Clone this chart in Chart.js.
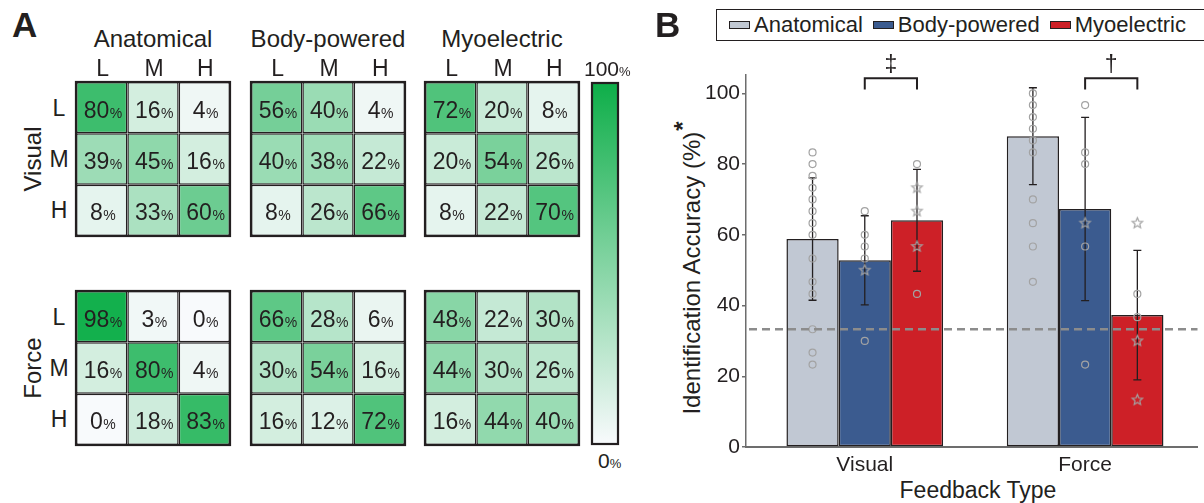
<!DOCTYPE html>
<html>
<head>
<meta charset="utf-8">
<title>Identification accuracy</title>
<script src="https://cdn.jsdelivr.net/npm/chart.js@4.4.1/dist/chart.umd.min.js"></script>
<style>
  html, body { margin: 0; padding: 0; background: #fff; }
  #page {
    position: relative; width: 1204px; height: 503px; overflow: hidden;
    font-family: "Liberation Sans", Arial, Helvetica, sans-serif; color: #231f20;
  }
  #page canvas { position: absolute; display: block; }
  .txt { position: absolute; white-space: nowrap; }
  .pct { font-size: 13px; }
  .legend {
    position: absolute; left: 716px; top: 9px; width: 500px; height: 30px;
    border: 1px solid #231f20; display: flex; align-items: center; padding-left: 12px;
    font-size: 22px; box-sizing: content-box;
  }
  .legend span.sw { display: inline-block; width: 19px; height: 6px; border: 1px solid #231f20; margin-right: 4px; }
  .legend span.it { margin-right: 10px; line-height: 30px; }
</style>
</head>
<body>
<div id="page">
  <div class="legend" id="legend"></div>
</div>
<script>
/* ---------- data ---------- */
var PROSTHESES = ['Anatomical', 'Body-powered', 'Myoelectric'];
var FEEDBACK = ['Visual', 'Force'];
var LEVELS = ['L', 'M', 'H'];

/* confusion matrices (%), row = presented level, column = answered level */
var VISUAL_ANATOMICAL = [[80, 16, 4], [39, 45, 16], [8, 33, 60]];
var VISUAL_BODY = [[56, 40, 4], [40, 38, 22], [8, 26, 66]];
var VISUAL_MYO = [[72, 20, 8], [20, 54, 26], [8, 22, 70]];
var FORCE_ANATOMICAL = [[98, 3, 0], [16, 80, 4], [0, 18, 83]];
var FORCE_BODY = [[66, 28, 6], [30, 54, 16], [16, 12, 72]];
var FORCE_MYO = [[48, 22, 30], [44, 30, 26], [16, 44, 40]];

/* panel B: mean and SD per feedback type (Visual, Force) */
var MEAN_ANATOMICAL = [58.8, 87.9];
var MEAN_BODY = [52.8, 67.3];
var MEAN_MYO = [64.1, 37.3];
var SD_ANATOMICAL = [17.3, 13.7];
var SD_BODY = [12.6, 25.9];
var SD_MYO = [14.4, 18.3];

/* individual participants: circles and stars, per feedback type */
var ANATOMICAL_CIRCLES = [[83.3, 80, 76.7, 73.3, 70, 66.7, 63.3, 60, 53.3, 46.7, 43.3, 33.3, 26.7, 23.3],
                          [100, 96.7, 93.3, 90, 86.7, 83.3, 70, 63.3, 56.7, 46.7]];
var ANATOMICAL_STARS = [[], []];
var BODY_CIRCLES = [[66.7, 60, 56.7, 53.3, 30], [96.7, 83.3, 80, 56.7, 23.3]];
var BODY_STARS = [[50], [63.3]];
var MYO_CIRCLES = [[80, 43.3], [43.3, 36.7]];
var MYO_STARS = [[73.3, 66.7, 56.7], [63.3, 30, 13.3]];

var Y_TICKS = [0, 20, 40, 60, 80, 100];
var CHANCE = 33.3;
var SIG_FEEDBACK = [0, 1];
var SIG_MARKS = ['\u2021', '\u2020'];

/* ---------- style ---------- */
var FONT = '"Liberation Sans", Arial, Helvetica, sans-serif';
var INK = '#231f20';
var HEAT_LOW = [248, 250, 252];
var HEAT_HIGH = [14, 174, 73];
var SERIES_COLORS = ['#c1c8d3', '#3b5b8f', '#cd2027'];
var MARKER = '#a3a3a3';
var CAT_PCT = 0.711;

Chart.defaults.font.family = FONT;
Chart.defaults.color = INK;

var page = document.getElementById('page');

function heatColor(v, a) {
  var t = v / 100;
  var c = HEAT_LOW.map(function (lo, i) { return Math.round(lo + (HEAT_HIGH[i] - lo) * t); });
  return 'rgba(' + c[0] + ',' + c[1] + ',' + c[2] + ',' + (a == null ? 1 : a) + ')';
}

function makeCanvas(x, y, w, h) {
  var c = document.createElement('canvas');
  c.width = w; c.height = h;
  c.style.left = x + 'px'; c.style.top = y + 'px';
  c.style.width = w + 'px'; c.style.height = h + 'px';
  page.appendChild(c);
  return c;
}

/* text placed by baseline; align 'center' centers on x */
function text(html, x, baseline, size, align, bold) {
  var d = document.createElement('div');
  d.className = 'txt';
  d.innerHTML = html;
  d.style.fontSize = size + 'px';
  d.style.lineHeight = size + 'px';
  d.style.left = x + 'px';
  d.style.top = (baseline - 0.8465 * size) + 'px';
  if (align === 'center') d.style.transform = 'translateX(-50%)';
  if (bold) d.style.fontWeight = 'bold';
  page.appendChild(d);
  return d;
}

function rotText(html, cx, cy, size) {
  var d = document.createElement('div');
  d.className = 'txt';
  d.innerHTML = html;
  d.style.fontSize = size + 'px';
  d.style.lineHeight = size + 'px';
  d.style.left = cx + 'px';
  d.style.top = cy + 'px';
  d.style.transform = 'translate(-50%,-50%) rotate(-90deg)';
  page.appendChild(d);
  return d;
}

/* ---------- panel A ---------- */
var MATRICES = [
  [VISUAL_ANATOMICAL, VISUAL_BODY, VISUAL_MYO],
  [FORCE_ANATOMICAL, FORCE_BODY, FORCE_MYO]
];
var MX = [76, 251, 425];
var MY = [82, 291];
var MW = 154, MH = 154, PAD = 3;

var cellText = {
  id: 'cellText',
  afterDatasetsDraw: function (chart) {
    var ctx = chart.ctx;
    chart.data.datasets.forEach(function (ds, r) {
      chart.getDatasetMeta(r).data.forEach(function (el, c) {
        var num = String(ds.pct[c]);
        var cy = (el.y + el.base) / 2;
        ctx.save();
        ctx.fillStyle = INK;
        ctx.textAlign = 'left';
        ctx.textBaseline = 'alphabetic';
        ctx.font = '23px ' + FONT;
        var w1 = ctx.measureText(num).width;
        ctx.font = '14px ' + FONT;
        var w2 = ctx.measureText('%').width;
        var x0 = el.x - (w1 + w2) / 2 + 1;
        ctx.font = '23px ' + FONT;
        ctx.fillText(num, x0, cy + 10);
        ctx.font = '14px ' + FONT;
        ctx.fillText('%', x0 + w1 + 0.5, cy + 10);
        ctx.restore();
      });
    });
  }
};

var frame = {
  id: 'frame',
  afterDraw: function (chart) {
    var a = chart.chartArea, ctx = chart.ctx;
    ctx.save();
    ctx.strokeStyle = INK;
    ctx.lineWidth = 2.2;
    ctx.strokeRect(a.left, a.top, a.right - a.left, a.bottom - a.top);
    ctx.restore();
  }
};

function matrixChart(values, x, y) {
  var cv = makeCanvas(x - PAD, y - PAD, MW + 2 * PAD, MH + 2 * PAD);
  var datasets = values.map(function (row, r) {
    return {
      label: LEVELS[r],
      pct: row,
      data: row.map(function () { return 1; }),
      backgroundColor: row.map(function (v) { return heatColor(v); }),
      borderColor: INK,
      borderWidth: 1.5,
      borderSkipped: false,
      barPercentage: 1,
      categoryPercentage: 1,
      inflateAmount: 0
    };
  });
  return new Chart(cv, {
    type: 'bar',
    data: { labels: LEVELS, datasets: datasets },
    options: {
      responsive: false, animation: false, events: [], devicePixelRatio: 1,
      layout: { padding: PAD },
      plugins: { legend: { display: false }, tooltip: { enabled: false } },
      scales: {
        x: { display: false, stacked: true },
        y: { display: false, stacked: true, reverse: true, min: 0, max: LEVELS.length }
      }
    },
    plugins: [cellText, frame]
  });
}

MATRICES.forEach(function (rowOfMats, f) {
  rowOfMats.forEach(function (m, p) {
    matrixChart(m, MX[p], MY[f]);
  });
  /* row level labels and feedback label */
  LEVELS.forEach(function (lv, r) {
    var cy = MY[f] + (r + 0.5) * MH / LEVELS.length;
    text(lv, 59, cy + 8.5, 23, 'center');
  });
  rotText(FEEDBACK[f], 33, MY[f] + MH / 2, 24);
});

PROSTHESES.forEach(function (name, p) {
  text(name, MX[p] + MW / 2, 47, 24, 'center');
  LEVELS.forEach(function (lv, c) {
    text(lv, MX[p] + (c + 0.5) * MW / LEVELS.length + 1, 76, 23, 'center');
  });
});

text('A', 12, 37, 35, 'left', true);

/* colour bar */
(function () {
  var CB_X = 592, CB_Y = 83, CB_W = 26, CB_H = 361;
  var cv = makeCanvas(CB_X - PAD, CB_Y - PAD, CB_W + 2 * PAD, CB_H + 2 * PAD);
  new Chart(cv, {
    type: 'bar',
    data: {
      labels: [''],
      datasets: [{
        data: [100],
        backgroundColor: function (ctx) {
          var area = ctx.chart.chartArea;
          if (!area) return heatColor(50);
          var g = ctx.chart.ctx.createLinearGradient(0, area.bottom, 0, area.top);
          g.addColorStop(0, heatColor(0));
          g.addColorStop(1, heatColor(100));
          return g;
        },
        borderWidth: 0,
        barPercentage: 1,
        categoryPercentage: 1
      }]
    },
    options: {
      responsive: false, animation: false, events: [], devicePixelRatio: 1,
      layout: { padding: PAD },
      plugins: { legend: { display: false }, tooltip: { enabled: false } },
      scales: { x: { display: false }, y: { display: false, min: 0, max: 100 } }
    },
    plugins: [frame]
  });
  text('100<span class="pct">%</span>', 584, 76, 21);
  text('0<span class="pct">%</span>', 598, 468, 21);
})();

/* ---------- panel B ---------- */
text('B', 655, 37, 35, 'left', true);

var MEANS = [MEAN_ANATOMICAL, MEAN_BODY, MEAN_MYO];
var SDS = [SD_ANATOMICAL, SD_BODY, SD_MYO];
var CIRCLES = [ANATOMICAL_CIRCLES, BODY_CIRCLES, MYO_CIRCLES];
var STARS = [ANATOMICAL_STARS, BODY_STARS, MYO_STARS];

var legend = document.getElementById('legend');
PROSTHESES.forEach(function (name, p) {
  legend.insertAdjacentHTML('beforeend',
    '<span class="sw" style="background:' + SERIES_COLORS[p] + '"></span><span class="it">' + name + '</span>');
});

rotText('Identification Accuracy (%)<span style="font-weight:bold;position:relative;top:-0.38em;margin-left:1px">*</span>', 692, 268, 24);
text('Feedback Type', 978, 498, 23, 'center');

function starImage(r, color) {
  var s = Math.ceil(r * 2 + 4);
  var c = document.createElement('canvas');
  c.width = s; c.height = s;
  var g = c.getContext('2d');
  g.beginPath();
  for (var i = 0; i < 10; i++) {
    var rad = i % 2 ? r * 0.45 : r;
    var a = -Math.PI / 2 + i * Math.PI / 5;
    g.lineTo(s / 2 + rad * Math.cos(a), s / 2 + rad * Math.sin(a));
  }
  g.closePath();
  g.strokeStyle = color;
  g.lineWidth = 1.2;
  g.stroke();
  return c;
}
var STAR = starImage(5.5, MARKER);

function pointX(f, p) {
  return f + 1 + (p - (PROSTHESES.length - 1) / 2) * CAT_PCT / PROSTHESES.length;
}

var datasets = [];
PROSTHESES.forEach(function (name, p) {
  datasets.push({
    type: 'bar',
    label: name,
    data: FEEDBACK.map(function (fb, f) { return { x: f + 1, y: MEANS[p][f] }; }),
    sd: SDS[p],
    backgroundColor: SERIES_COLORS[p],
    borderColor: INK,
    borderWidth: 1.5,
    borderSkipped: false,
    categoryPercentage: CAT_PCT,
    barPercentage: 1,
    order: 2
  });
});
PROSTHESES.forEach(function (name, p) {
  var circ = [], star = [];
  FEEDBACK.forEach(function (fb, f) {
    CIRCLES[p][f].forEach(function (v) { circ.push({ x: pointX(f, p), y: v }); });
    STARS[p][f].forEach(function (v) { star.push({ x: pointX(f, p), y: v }); });
  });
  datasets.push({
    type: 'scatter', label: name + ' participants', data: circ,
    pointStyle: 'circle', pointRadius: 3.5, backgroundColor: 'rgba(0,0,0,0)',
    borderColor: MARKER, borderWidth: 1.2, order: 1
  });
  datasets.push({
    type: 'scatter', label: name + ' amputee participants', data: star,
    pointStyle: STAR, pointRadius: 5.5, order: 1
  });
});

var errorBars = {
  id: 'errorBars',
  afterDatasetDraw: function (chart, args) {
    var ds = chart.data.datasets[args.index];
    if (!ds.sd) return;
    var ys = chart.scales.y, ctx = chart.ctx;
    ctx.save();
    ctx.strokeStyle = INK;
    ctx.lineWidth = 1.3;
    args.meta.data.forEach(function (el, j) {
      var m = ds.data[j].y, s = ds.sd[j];
      var t = ys.getPixelForValue(m + s), b = ys.getPixelForValue(m - s);
      ctx.beginPath();
      ctx.moveTo(el.x, t); ctx.lineTo(el.x, b);
      ctx.moveTo(el.x - 4, t); ctx.lineTo(el.x + 4, t);
      ctx.moveTo(el.x - 4, b); ctx.lineTo(el.x + 4, b);
      ctx.stroke();
    });
    ctx.restore();
  }
};

var extras = {
  id: 'extras',
  afterDatasetsDraw: function (chart) {
    var ys = chart.scales.y, a = chart.chartArea, ctx = chart.ctx;
    /* chance level */
    ctx.save();
    ctx.strokeStyle = '#8c8c8c';
    ctx.lineWidth = 2.6;
    ctx.setLineDash([8, 5]);
    var cy = ys.getPixelForValue(CHANCE);
    ctx.beginPath();
    ctx.moveTo(a.left + 3, cy); ctx.lineTo(a.right, cy);
    ctx.stroke();
    ctx.restore();
    /* significance brackets between body-powered and myoelectric */
    var top = ys.getPixelForValue(104.3), leg = ys.getPixelForValue(101.1);
    SIG_FEEDBACK.forEach(function (f, k) {
      var x1 = chart.getDatasetMeta(1).data[f].x;
      var x2 = chart.getDatasetMeta(2).data[f].x;
      ctx.save();
      ctx.strokeStyle = INK;
      ctx.lineWidth = 2;
      ctx.beginPath();
      ctx.moveTo(x1, leg); ctx.lineTo(x1, top); ctx.lineTo(x2, top); ctx.lineTo(x2, leg);
      ctx.stroke();
      ctx.fillStyle = INK;
      ctx.font = '23px ' + FONT;
      ctx.textAlign = 'center';
      ctx.textBaseline = 'middle';
      ctx.fillText(SIG_MARKS[k], (x1 + x2) / 2, top - 13);
      ctx.restore();
    });
  }
};

var cvB = makeCanvas(640, 0, 564, 503);
new Chart(cvB, {
  type: 'bar',
  data: { datasets: datasets },
  options: {
    responsive: false, animation: false, events: [], devicePixelRatio: 1,
    layout: { padding: { top: 75, right: 0, bottom: 0, left: 0 } },
    plugins: { legend: { display: false }, tooltip: { enabled: false } },
    scales: {
      x: {
        type: 'linear', min: 0.461, max: 2.51, offset: false,
        afterFit: function (s) { s.height = 56; },
        afterBuildTicks: function (s) { s.ticks = FEEDBACK.map(function (fb, i) { return { value: i + 1 }; }); },
        ticks: {
          font: { size: 21 }, color: INK, padding: 6, maxRotation: 0, autoSkip: false,
          callback: function (v) { return FEEDBACK[v - 1]; }
        },
        grid: { display: false, drawTicks: false },
        border: { display: true, color: '#6d6d6d', width: 2 }
      },
      y: {
        min: 0, max: 105.2,
        afterFit: function (s) { s.width = 106; },
        afterBuildTicks: function (s) { s.ticks = Y_TICKS.map(function (v) { return { value: v }; }); },
        ticks: { font: { size: 21 }, color: INK, padding: 2 },
        grid: { display: true, drawOnChartArea: false, drawTicks: true, tickLength: 4, color: '#6d6d6d', lineWidth: 1.5 },
        border: { display: true, color: '#6d6d6d', width: 1.5 }
      }
    }
  },
  plugins: [errorBars, extras]
});
</script>
</body>
</html>
